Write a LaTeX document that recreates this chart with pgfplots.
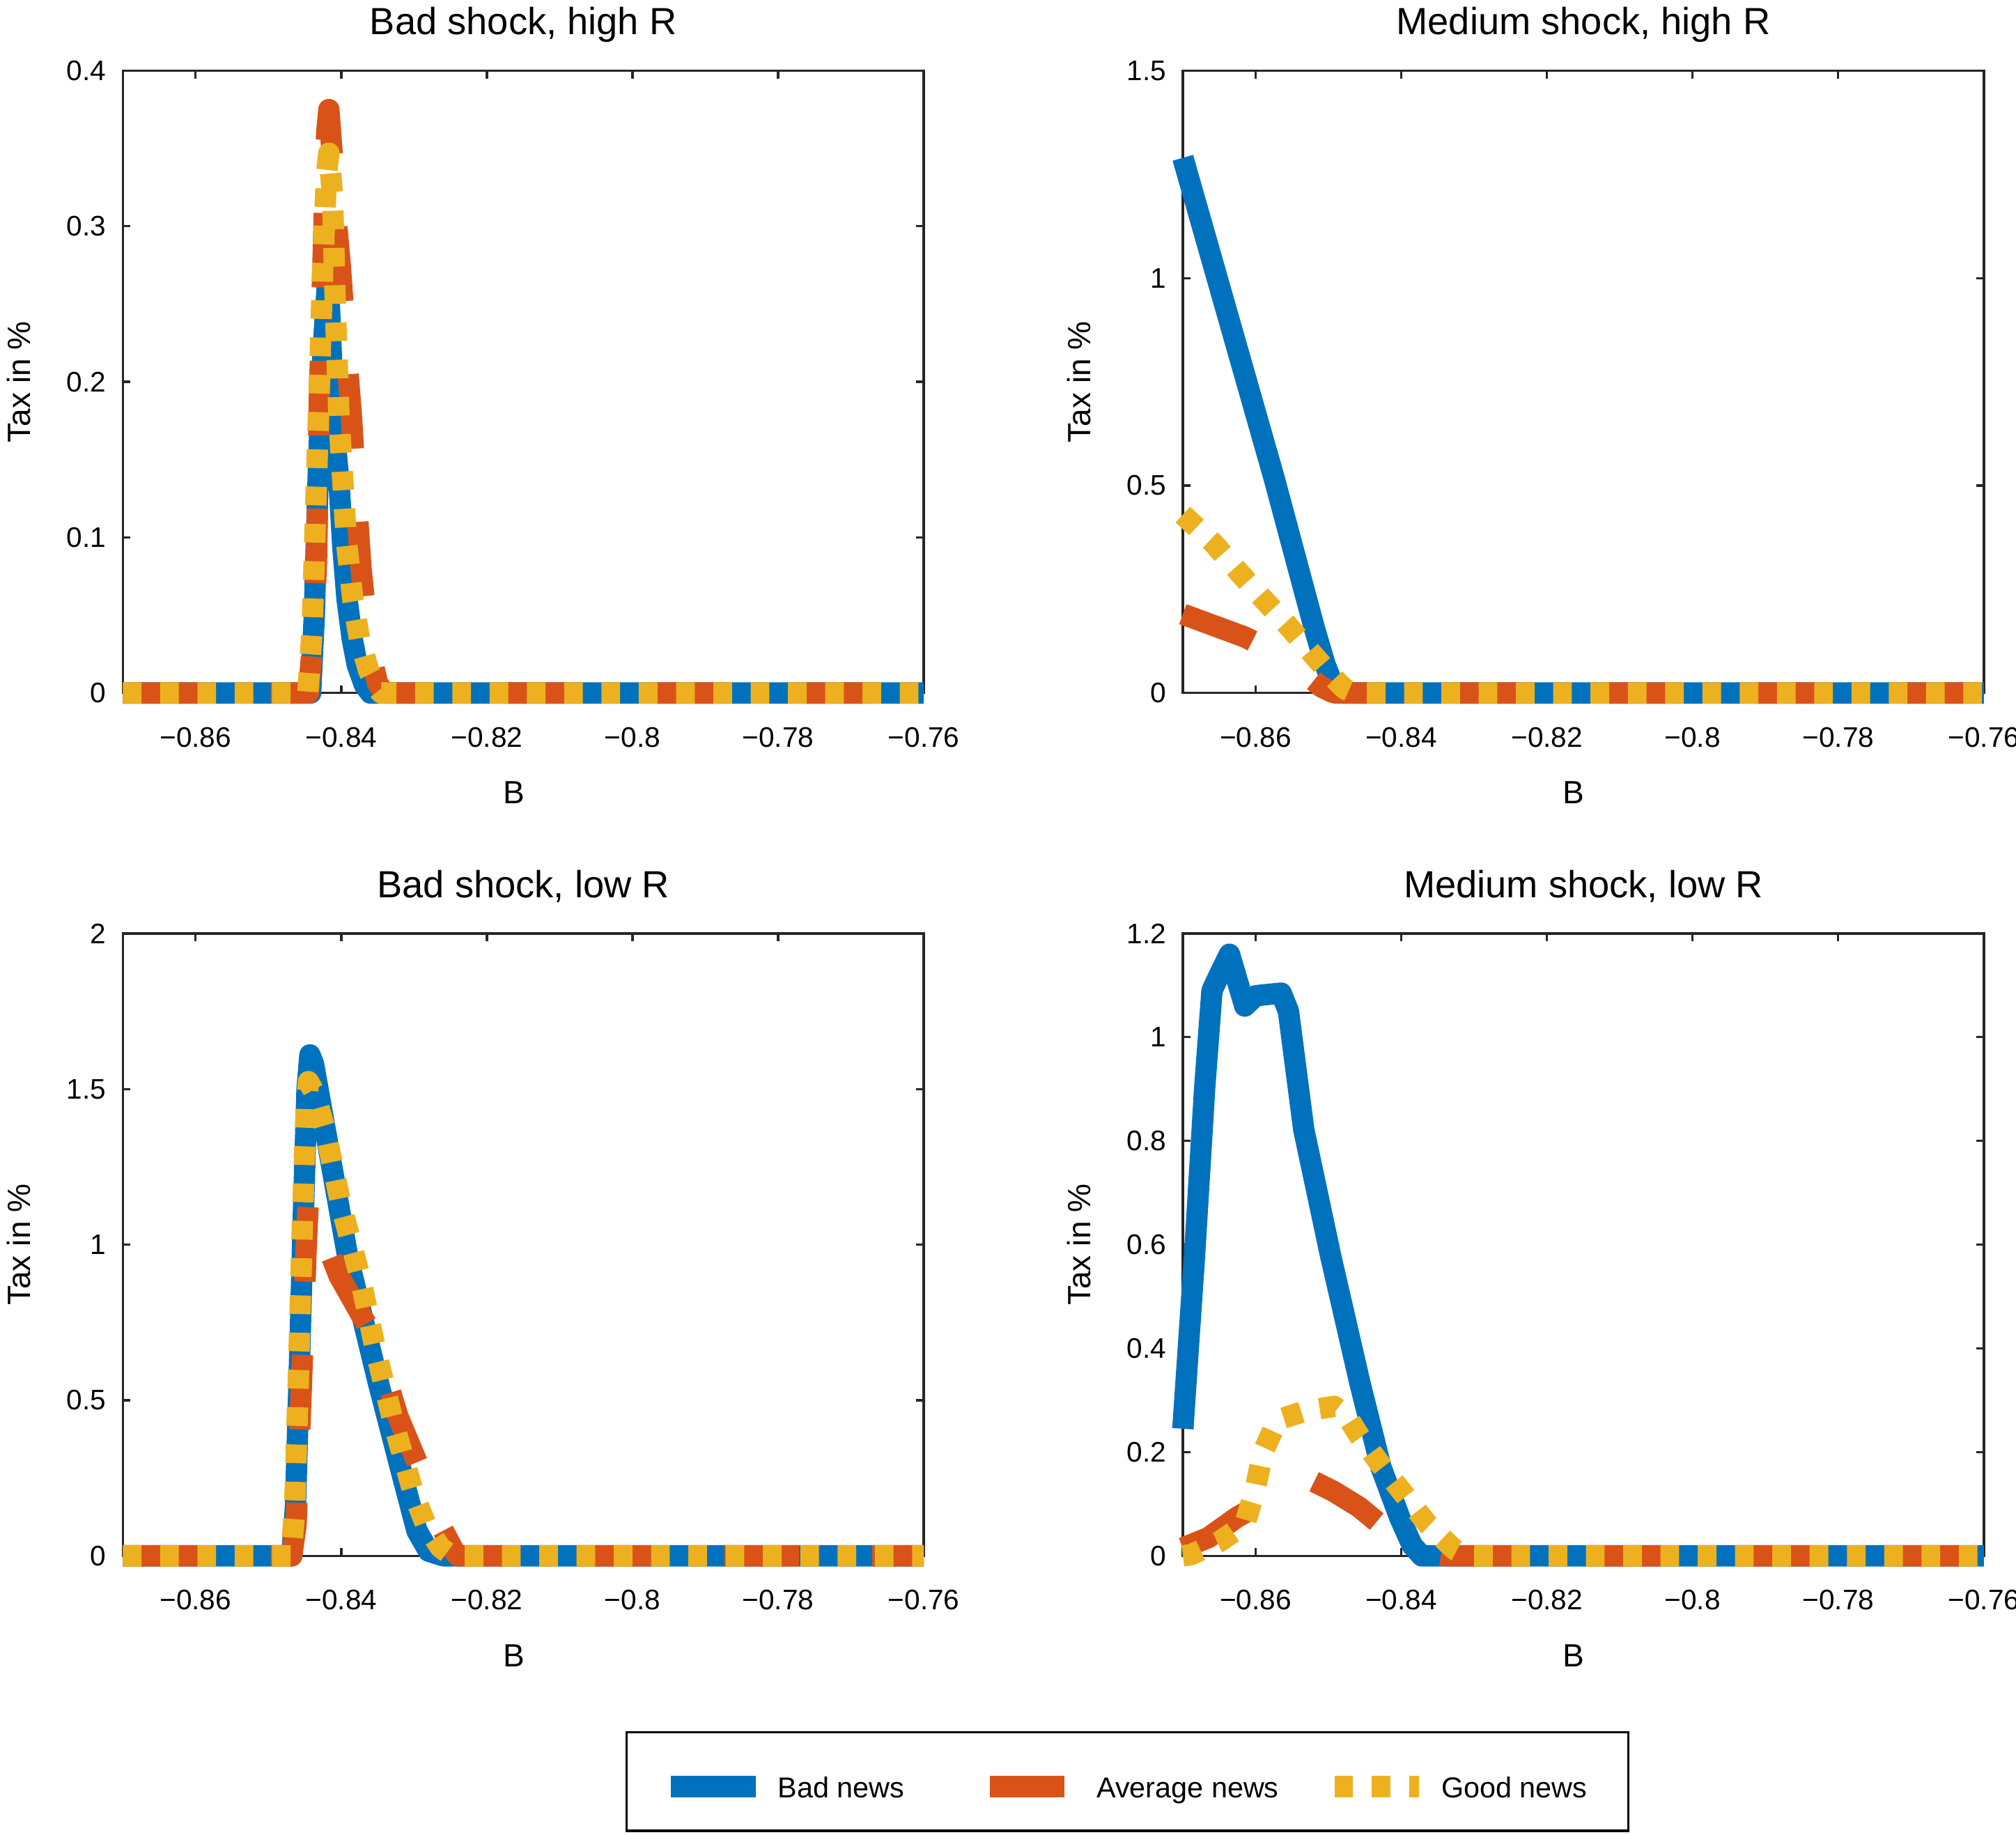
\documentclass[border=0pt]{standalone}
\usepackage{fontspec}
\setmainfont{Liberation Sans}
\usepackage{pgfplots}
\pgfplotsset{compat=1.18}
\definecolor{mblue}{rgb}{0,0.447,0.741}
\definecolor{mred}{rgb}{0.85,0.325,0.098}
\definecolor{myel}{rgb}{0.929,0.694,0.125}
\definecolor{axgray}{rgb}{0.15,0.15,0.15}
\pgfplotsset{
  panel/.style={
    width=311.5pt, height=242pt, scale only axis,
    xmin=-0.87, xmax=-0.76,
    xtick={-0.86,-0.84,-0.82,-0.8,-0.78,-0.76},
    xticklabels={−0.86,−0.84,−0.82,−0.8,−0.78,−0.76},
    clip=false,
    axis line style={axgray, line width=0.9pt},
    tick style={axgray, line width=0.9pt},
    tick align=inside,
    major tick length=3pt,
    ticklabel style={font=\fontsize{11}{13}\selectfont, text=black},
    xticklabel style={anchor=base, yshift=-21pt},
    yticklabel style={anchor=east, xshift=-3pt},
    xlabel={B},
    ylabel={Tax in \%},
    every axis x label/.style={at={(axis description cs:0.488,-0.16)}, anchor=center, font=\fontsize{12.5}{15}\selectfont},
    every axis y label/.style={at={(axis description cs:-0.13,0.5)}, rotate=90, anchor=center, font=\fontsize{12.5}{15}\selectfont},
    title style={font=\fontsize{14.7}{17}\selectfont, at={(axis description cs:0.5,1)}, anchor=base, yshift=8pt},
    no marks,
  },
  bad/.style={mblue, line width=8.3pt, line cap=butt, line join=round},
  avg/.style={mred, line width=8.3pt, line cap=butt, line join=round, dash pattern=on 29pt off 28.5pt},
  good/.style={myel, line width=8.3pt, line cap=butt, line join=round, dash pattern=on 7.25pt off 7.25pt},
}
\begin{document}
\begin{tikzpicture}
\path (0,0) rectangle (784pt,713.5pt);
% Panel 1: Bad shock, high R
\begin{axis}[panel, at={(47.75pt,444pt)}, anchor=south west,
  title={Bad shock, high R},
  ymin=0, ymax=0.4, ytick={0,0.1,0.2,0.3,0.4}, yticklabels={0,0.1,0.2,0.3,0.4}]
\addplot[bad] coordinates {(-0.87,0) (-0.8442,0) (-0.8437,0.05) (-0.8431,0.15) (-0.8425,0.22) (-0.8418,0.27) (-0.8413,0.21) (-0.8408,0.16) (-0.8403,0.135) (-0.8398,0.095) (-0.8392,0.06) (-0.8385,0.035) (-0.8378,0.018) (-0.8368,0.005) (-0.836,0) (-0.76,0)};
\addplot[avg] coordinates {(-0.87,0) (-0.8445,0) (-0.8438,0.04) (-0.8434,0.084) (-0.8430,0.19) (-0.8424,0.296) (-0.8420,0.36) (-0.8417,0.375) (-0.8413,0.35) (-0.8408,0.31) (-0.8401,0.273) (-0.8394,0.225) (-0.8386,0.178) (-0.8380,0.13) (-0.8373,0.081) (-0.8362,0.03) (-0.8350,0.006) (-0.8340,0) (-0.76,0)};
\addplot[good] coordinates {(-0.87,0) (-0.8446,0) (-0.8440,0.04) (-0.8435,0.12) (-0.8430,0.2) (-0.8425,0.28) (-0.8420,0.335) (-0.8417,0.347) (-0.8412,0.32) (-0.8408,0.247) (-0.8403,0.176) (-0.8397,0.13) (-0.8393,0.098) (-0.8384,0.06) (-0.8375,0.035) (-0.8362,0.014) (-0.8350,0.003) (-0.8345,0) (-0.76,0)};
\end{axis}
% Panel 2: Medium shock, high R
\begin{axis}[panel, at={(460pt,444pt)}, anchor=south west,
  title={Medium shock, high R},
  ymin=0, ymax=1.5, ytick={0,0.5,1,1.5}, yticklabels={0,0.5,1,1.5}]
\addplot[bad] coordinates {(-0.87,1.29) (-0.8575,0.52) (-0.852,0.16) (-0.8505,0.07) (-0.8495,0.025) (-0.8485,0.004) (-0.848,0) (-0.76,0)};
\addplot[avg] coordinates {(-0.87,0.19) (-0.8615,0.135) (-0.857,0.095) (-0.8535,0.05) (-0.851,0.015) (-0.8495,0.002) (-0.849,0) (-0.76,0)};
\addplot[good] coordinates {(-0.87,0.43) (-0.8658,0.361) (-0.8625,0.295) (-0.8591,0.229) (-0.8556,0.163) (-0.8522,0.094) (-0.8495,0.04) (-0.8478,0.01) (-0.8465,0) (-0.76,0)};
\end{axis}
% Panel 3: Bad shock, low R
\begin{axis}[panel, at={(47.75pt,108.5pt)}, anchor=south west,
  title={Bad shock, low R},
  ymin=0, ymax=2, ytick={0,0.5,1,1.5,2}, yticklabels={0,0.5,1,1.5,2},
  legend columns=3,
  legend image code/.code={\draw[#1] (0pt,-2pt) -- (33pt,-2pt);},
  legend style={at={(1.2544,-0.3626)}, anchor=center, draw=black, line width=0.9pt,
    inner xsep=13pt, inner ysep=12.85pt, column sep=0pt,
    font=\fontsize{11.2}{13}\selectfont,
    nodes={inner sep=0pt, text height=12.65pt, text depth=0pt}}]
\addplot[bad] coordinates {(-0.87,0) (-0.8468,0) (-0.8463,0.15) (-0.8458,0.56) (-0.8452,1.1) (-0.8447,1.5) (-0.8443,1.61) (-0.8438,1.58) (-0.8422,1.37) (-0.8391,0.96) (-0.8349,0.556) (-0.8319,0.285) (-0.8296,0.08) (-0.828,0.015) (-0.826,0) (-0.76,0)};
\addlegendentry{\hspace*{4.5pt}Bad news\hspace*{29pt}}
\addplot[avg] coordinates {(-0.87,0) (-0.8468,0) (-0.8462,0.1) (-0.8455,0.53) (-0.8448,1.0) (-0.8445,1.15) (-0.8403,0.9) (-0.8356,0.705) (-0.8322,0.447) (-0.8288,0.257) (-0.8262,0.09) (-0.8245,0.015) (-0.824,0) (-0.76,0)};
\addlegendentry{\hspace*{4.5pt}Average news\hspace*{17.5pt}}
\addplot[good] coordinates {(-0.87,0) (-0.8469,0) (-0.8464,0.15) (-0.8459,0.56) (-0.8453,1.1) (-0.8448,1.45) (-0.8445,1.524) (-0.8437,1.49) (-0.8422,1.369) (-0.8400,1.125) (-0.8374,0.894) (-0.8353,0.664) (-0.8329,0.434) (-0.8301,0.203) (-0.8283,0.095) (-0.8264,0.027) (-0.825,0.003) (-0.8245,0) (-0.76,0)};
\addlegendentry{\hspace*{4.5pt}Good news\hspace*{3pt}}
\end{axis}
% Panel 4: Medium shock, low R
\begin{axis}[panel, at={(460pt,108.5pt)}, anchor=south west,
  title={Medium shock, low R},
  ymin=0, ymax=1.2, ytick={0,0.2,0.4,0.6,0.8,1,1.2}, yticklabels={0,0.2,0.4,0.6,0.8,1,1.2}]
\addplot[bad] coordinates {(-0.87,0.245) (-0.8684,0.578) (-0.867,0.903) (-0.866,1.09) (-0.865,1.12) (-0.8636,1.16) (-0.8615,1.06) (-0.860,1.08) (-0.8565,1.085) (-0.8555,1.05) (-0.8534,0.822) (-0.8497,0.578) (-0.8457,0.334) (-0.8428,0.171) (-0.8402,0.073) (-0.8385,0.02) (-0.8372,0) (-0.76,0)};
\addplot[avg] coordinates {(-0.87,0.015) (-0.8665,0.035) (-0.8625,0.075) (-0.858,0.11) (-0.8551,0.128) (-0.852,0.143) (-0.8494,0.125) (-0.8458,0.094) (-0.842,0.05) (-0.838,0.015) (-0.835,0.002) (-0.834,0) (-0.76,0)};
\addplot[good] coordinates {(-0.87,0) (-0.8689,0.002) (-0.8649,0.028) (-0.8615,0.061) (-0.8601,0.126) (-0.859,0.2) (-0.857,0.262) (-0.853,0.28) (-0.8492,0.288) (-0.8475,0.27) (-0.8458,0.232) (-0.8428,0.175) (-0.8396,0.118) (-0.8364,0.061) (-0.8327,0.012) (-0.831,0) (-0.76,0)};
\end{axis}
\pgfresetboundingbox
\path (0,0) rectangle (784pt,713.5pt);
\end{tikzpicture}
\end{document}
